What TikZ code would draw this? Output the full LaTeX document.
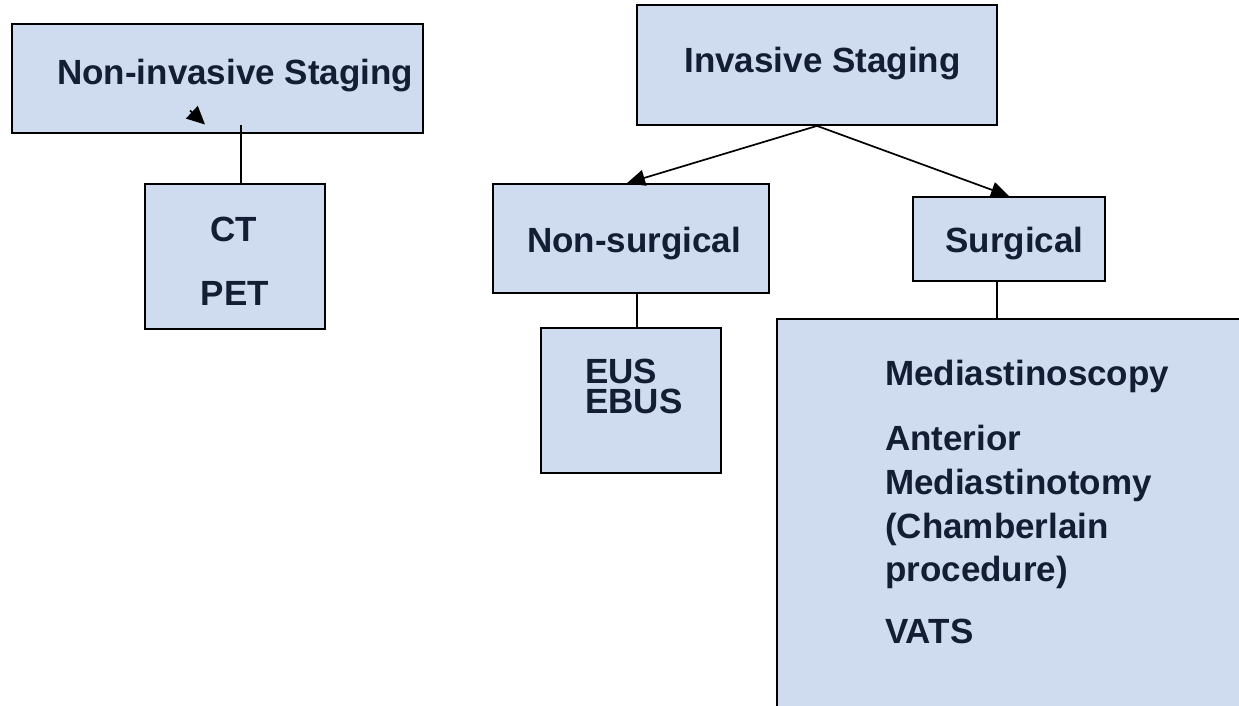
\documentclass[tikz,border=0pt]{standalone}
\usepackage{fontspec}
\setmainfont{Liberation Sans}
\usetikzlibrary{arrows.meta}
\definecolor{boxfill}{HTML}{CFDBEE}
\definecolor{txt}{HTML}{131D33}
\begin{document}
\begin{tikzpicture}[x=1pt,y=-1pt,
  box/.style={draw=black, line width=1.8pt, fill=boxfill, rectangle, inner sep=0pt},
  lbl/.style={font=\fontsize{35}{42}\selectfont\bfseries, text=txt, inner sep=0pt},
  conn/.style={line width=1.7pt, draw=black},
  arr/.style={conn, -{Triangle[length=18pt,width=16pt]}}]
\useasboundingbox (0,0) rectangle (1239,706);
\clip (0,0) rectangle (1239,706);
\fill[white] (0,0) rectangle (1239,706);

% boxes
\node[box, minimum width=411pt, minimum height=109pt] (ni) at (217.5,78.5) {};
\node[box, minimum width=180pt, minimum height=145pt] (ct) at (235,256.5) {};
\node[box, minimum width=360pt, minimum height=120pt] (is) at (817,65) {};
\node[box, minimum width=276pt, minimum height=109pt] (ns) at (631,238.5) {};
\node[box, minimum width=192pt, minimum height=84pt] (sg) at (1009,239) {};
\node[box, minimum width=180pt, minimum height=145pt] (eu) at (631,400.5) {};
\node[box, minimum width=483pt, minimum height=411pt] (bg) at (1018.5,524.5) {};

% connectors
\coordinate (ni-in) at (241,125);
\draw[conn] (ni-in) -- (ni-in |- ct.north);
\coordinate (tipA) at (190,110.5);
\coordinate (tipB) at (205,124.5);
\draw[conn, -{Triangle[length=18pt,width=17pt]}] (tipA) -- (tipB);
\draw[arr] (is.south) -- ([xshift=-4pt]ns.north);
\draw[arr] (is.south) -- (sg.north);
\coordinate (eu-in) at (637,328);
\draw[conn] (eu-in |- ns.south) -- (eu-in);
\coordinate (bg-in) at (997,319);
\draw[conn] (bg-in |- sg.south) -- (bg-in);

% texts
\node[lbl, anchor=base west] (ni-t) at (57,85) {Non-invasive Staging};
\node[lbl, anchor=base] (is-t) at (822.5,73) {Invasive Staging};
\node[lbl, anchor=base] (ct-t) at (234,241) {CT};
\node[lbl, anchor=base] (pet-t) at (235,305) {PET};
\node[lbl, anchor=base] (ns-t) at (634,252) {Non-surgical};
\node[lbl, anchor=base] (sg-t) at (1014.5,252) {Surgical};
\node[lbl, font=\fontsize{35}{30}\selectfont\bfseries, align=left, anchor=north west] (eus-t) at (585,359) {EUS\\EBUS};
\node[lbl, anchor=base west] (ms-t) at (885,385) {Mediastinoscopy};
\node[lbl, anchor=base west] (am1-t) at (885,450) {Anterior};
\node[lbl, anchor=base west] (am2-t) at (885,494) {Mediastinotomy};
\node[lbl, anchor=base west] (am3-t) at (885,538) {(Chamberlain};
\node[lbl, anchor=base west] (am4-t) at (885,581) {procedure)};
\node[lbl, anchor=base west] (vats-t) at (885,643) {VATS};
\end{tikzpicture}
\end{document}
